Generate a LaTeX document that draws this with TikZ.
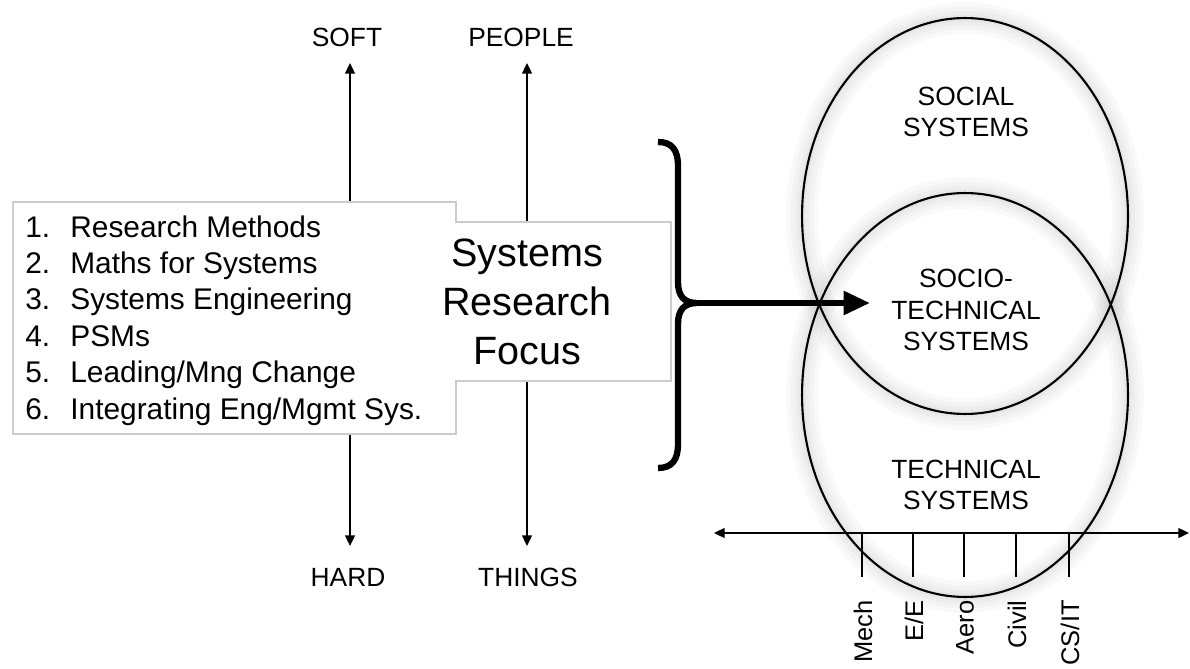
\documentclass[tikz,border=0pt]{standalone}
\usepackage{fontspec}
\setmainfont{Liberation Sans}
\usepackage{tikz}
\usetikzlibrary{arrows.meta}

\begin{document}
\begin{tikzpicture}[
  x=0.02cm, y=-0.02cm,
  cap text/.style={font=\fontsize{15}{18}\selectfont, align=center, inner sep=0pt},
  list text/.style={font=\fontsize{17}{20}\selectfont, anchor=base west, inner sep=0pt},
  focus text/.style={font=\fontsize{22.5}{27.9}\selectfont, align=center, inner sep=0pt},
  axis line/.style={line width=1.1pt, {Triangle[length=6pt,width=5.5pt]}-{Triangle[length=6pt,width=5.5pt]}},
  venn/.style={line width=1.2pt},
  glow/.style={line width=#1, black, opacity=0.022},
  disc label/.style={font=\fontsize{14.5}{17}\selectfont, rotate=90, anchor=east, inner sep=0pt},
]
\useasboundingbox (0,0) rectangle (1190,669);

\node[cap text] (soft) at (347,37) {SOFT};
\node[cap text] (hard) at (348,577) {HARD};
\node[cap text] (people) at (521,37) {PEOPLE};
\node[cap text] (things) at (528,577) {THINGS};
\coordinate (soft-tip) at (350,63);
\coordinate (hard-tip) at (350,546);
\coordinate (people-tip) at (527,63);
\coordinate (things-tip) at (527,546);
\draw[axis line] (hard-tip) -- (soft-tip);
\draw[axis line] (things-tip) -- (people-tip);

\draw[draw=black!20, fill=white, line width=0.6pt] (13,202) -- (456,202) -- (456,222) -- (671,222)
  -- (671,381) -- (456,381) -- (456,434) -- (13,434) -- cycle;
\foreach \n/\txt [count=\i from 0] in {1/Research Methods, 2/Maths for Systems, 3/Systems Engineering,
  4/PSMs, 5/{Leading/Mng Change}, 6/{Integrating Eng/Mgmt Sys.}}
{
  \node[list text] (num-\n) at (25,237+36.4*\i) {\n.};
  \node[list text] (item-\n) at (70,237+36.4*\i) {\txt};
}
\node[focus text] (focus) at (527,302) {Systems\\Research\\Focus};

\draw[line width=3.6pt] (658,142) .. controls (672,142) and (678,150) .. (678,166) -- (678,282)
  .. controls (678,296) and (684,303) .. (697,303)
  .. controls (684,303) and (678,310) .. (678,324) -- (678,444)
  .. controls (678,460) and (672,468) .. (658,468);
\coordinate (brace-tip) at (697,303);
\coordinate (venn-in) at (870,303);

\foreach \cy/\ry in {216/3.96cm,395/4.04cm}
{
  \foreach \w in {18pt,13pt,8pt,4pt}
    \draw[glow=\w] (965,\cy) ellipse [x radius=3.26cm, y radius=\ry];
  \draw[venn] (965,\cy) ellipse [x radius=3.26cm, y radius=\ry];
}
\node[cap text] (social) at (966,112) {SOCIAL\\SYSTEMS};
\node[cap text] (socio) at (966,310) {SOCIO-\\TECHNICAL\\SYSTEMS};
\node[cap text] (technical) at (966,485) {TECHNICAL\\SYSTEMS};
\draw[line width=3.4pt, -{Triangle[length=15pt,width=13pt]}] (brace-tip) -- (venn-in);

\coordinate (disc-l) at (714,533);
\coordinate (disc-r) at (1189,533);
\draw[axis line] (disc-l) -- (disc-r);
\foreach \x/\lbl [count=\i] in {862/Mech, 913/{E/E}, 964/Aero, 1016/Civil, 1069/{CS/IT}}
{
  \coordinate (tick-\i) at (\x,533);
  \draw[line width=1.3pt] (tick-\i) -- ++(0,44);
  \node[disc label] (disc-\i) at (\x+1,600) {\lbl};
}
\end{tikzpicture}
\end{document}
